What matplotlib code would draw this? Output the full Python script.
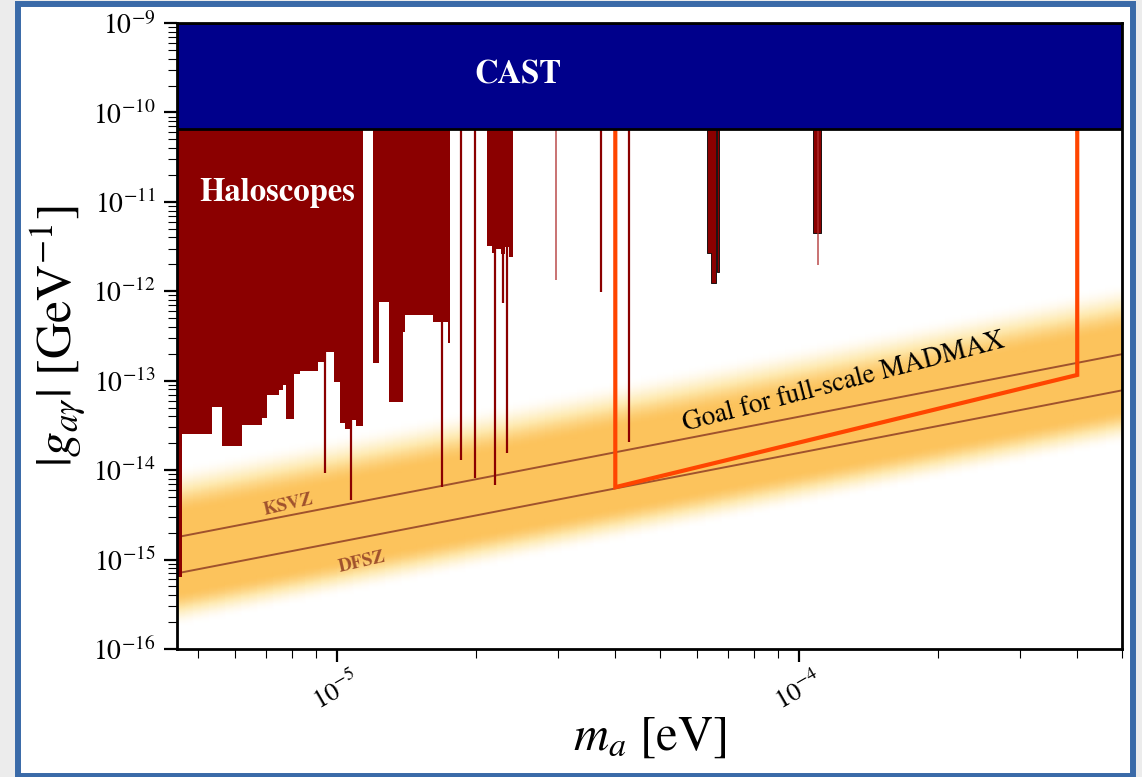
import numpy as np
import matplotlib
matplotlib.use("Agg")
import matplotlib.pyplot as plt
from matplotlib.patches import Rectangle
from matplotlib.colors import LinearSegmentedColormap
from matplotlib.ticker import LogLocator, NullFormatter

plt.rcParams['font.family'] = 'STIXGeneral'
plt.rcParams['mathtext.fontset'] = 'stix'

# ------------------------------------------------------------
# DATOS
# ------------------------------------------------------------
m_min, m_max = 4.5e-6, 5e-4
g_min, g_max = 1e-16, 1e-9
cast_g = 6.6e-11

# modelos QCD: g = c * m
ksvz_c = 3.96e-10
dfsz_c = 1.56e-10

# haloscopios: escalera principal (bordes en masa, limite inferior)
halo_edges = [4.50e-6, 4.62e-6, 5.35e-6, 5.62e-6, 6.21e-6, 6.89e-6, 7.06e-6,
              7.50e-6, 7.64e-6, 7.73e-6, 8.08e-6, 8.32e-6, 9.10e-6, 9.47e-6,
              9.85e-6, 1.015e-5, 1.04e-5, 1.07e-5, 1.10e-5, 1.138e-5, 1.196e-5,
              1.232e-5, 1.295e-5, 1.389e-5, 1.40e-5, 1.61e-5, 1.737e-5, 1.755e-5]
halo_low = [6.35e-16, 2.53e-14, 5.07e-14, 1.85e-14, 3.18e-14, 3.82e-14, 6.9e-14,
            7.85e-14, 8.93e-14, 3.72e-14, 1.19e-13, 1.28e-13, 1.61e-13, 2.09e-13,
            9.64e-14, 3.4e-14, 2.9e-14, 3.6e-14, 3.1e-14, 1e-9, 1.57e-13,
            7.57e-13, 5.77e-14, 3.5e-13, 5.42e-13, 4.52e-13, 2.63e-13]

# bloque ~2.1e-5 a 2.4e-5
blockB_edges = [2.11e-5, 2.16e-5, 2.21e-5, 2.26e-5, 2.31e-5, 2.36e-5, 2.40e-5]
blockB_low = [3.2e-12, 2.7e-12, 3.0e-12, 2.6e-12, 3.1e-12, 2.4e-12]

# grupo ~6.5e-5
blockC_edges = [6.33e-5, 6.45e-5, 6.61e-5, 6.645e-5, 6.71e-5]
blockC_low = [2.67e-12, 1.24e-12, 1e-9, 1.64e-12]

# bloque ~1.1e-4
blockD_edges = [1.072e-4, 1.115e-4]
blockD_low = [4.48e-12]

# lineas finas (masa, limite inferior)
spike_m = [9.42e-6, 1.072e-5, 1.69e-5, 1.853e-5, 1.987e-5, 2.196e-5, 2.284e-5,
           2.33e-5, 3.72e-5, 4.28e-5]
spike_g = [9.25e-15, 4.6e-15, 6.45e-15, 1.29e-14, 8.13e-15, 6.79e-15, 7.4e-13,
           1.55e-14, 9.8e-13, 2.06e-14]
faint_m = [2.97e-5, 1.10e-4]
faint_g = [1.33e-12, 1.96e-12]

# MADMAX
madmax_m = [4e-5, 4e-5, 4e-4, 4e-4]
madmax_g = [1e-9, 6.45e-15, 1.16e-13, 1e-9]

halo_color = '#8b0000'
cast_color = '#00008b'
model_color = '#a0522d'


def step_fill(ax, edges, lows, **kw):
    lows = list(lows) + [lows[-1]]
    ax.fill_between(edges, lows, g_max, step='post', **kw)


fig = plt.figure(figsize=(11.42, 7.77), dpi=100)
fig.patch.set_facecolor('#ececec')
marco = Rectangle((18 / 1142, 1 / 777), (1133 - 18) / 1142, (776 - 4) / 777,
                  transform=fig.transFigure, facecolor='white',
                  edgecolor='#3a6aa8', linewidth=4.3, zorder=-1)
fig.add_artist(marco)

ax = fig.add_axes([177 / 1142, 1 - 649 / 777, (1122 - 177) / 1142, (649 - 23) / 777])
ax.set_xscale('log')
ax.set_yscale('log')
ax.set_xlim(m_min, m_max)
ax.set_ylim(g_min, g_max)

# banda QCD
lm = np.linspace(np.log10(m_min), np.log10(m_max), 60)
lg = np.linspace(-16, -9, 700)
LM, LG = np.meshgrid(lm, lg)
u = LG - (LM + np.log10(np.sqrt(ksvz_c * dfsz_c)))


def smooth(t):
    t = np.clip(t, 0, 1)
    return t * t * (3 - 2 * t)


inten = np.where(u > 0.45, smooth((1.0 - u) / 0.55),
                 np.where(u < -0.4, smooth((u + 0.8) / 0.4), 1.0))
cmap = LinearSegmentedColormap.from_list('banda', ['white', '#feeab0', '#fcc35c'])
ax.pcolormesh(10 ** LM, 10 ** LG, inten, cmap=cmap, vmin=0, vmax=1,
              shading='gouraud', zorder=0, rasterized=True)

mm = np.array([m_min, m_max])
ax.plot(mm, ksvz_c * mm, color=model_color, lw=1.4, zorder=2)
ax.plot(mm, dfsz_c * mm, color=model_color, lw=1.4, zorder=2)

# haloscopios
step_fill(ax, halo_edges, halo_low, color=halo_color, lw=0, zorder=3)
step_fill(ax, blockB_edges, blockB_low, color=halo_color, lw=0, zorder=3)
step_fill(ax, blockC_edges, blockC_low, facecolor=halo_color, edgecolor='black',
          lw=0.6, zorder=3)
step_fill(ax, blockD_edges, blockD_low, facecolor=halo_color, edgecolor='black',
          lw=0.6, zorder=3)
ax.vlines(spike_m, spike_g, g_max, color=halo_color, lw=1.6, zorder=3)
ax.vlines(faint_m, faint_g, g_max, color='#b03030', lw=1.2, alpha=0.8, zorder=3)

# MADMAX
ax.plot(madmax_m, madmax_g, color='#ff4500', lw=3, zorder=4,
        solid_joinstyle='miter')

# CAST
ax.fill_between(mm, cast_g, g_max, facecolor=cast_color, edgecolor='black',
                lw=2, zorder=5)

ax.text(2.46e-5, 2.62e-10, 'CAST', color='white', fontsize=23.5,
        fontweight='bold', ha='center', va='center', zorder=6)
ax.text(7.42e-6, 1.25e-11, 'Haloscopes', color='white', fontsize=23.5,
        fontweight='bold', ha='center', va='center', zorder=6)
ax.text(1.25e-4, 9.6e-14, 'Goal for full-scale MADMAX', color='black',
        fontsize=19.5, rotation=14.7, rotation_mode='anchor',
        ha='center', va='center', zorder=6)
ax.text(7.84e-6, 4.06e-15, 'KSVZ', color=model_color, fontsize=13.5,
        fontweight='bold', rotation=13, rotation_mode='anchor',
        ha='center', va='center', zorder=6)
ax.text(1.132e-5, 9.35e-16, 'DFSZ', color=model_color, fontsize=13.5,
        fontweight='bold', rotation=13, rotation_mode='anchor',
        ha='center', va='center', zorder=6)

# ejes
ax.yaxis.set_major_locator(LogLocator(base=10, numticks=20))
ax.yaxis.set_minor_locator(LogLocator(base=10, subs=np.arange(2, 10), numticks=100))
ax.xaxis.set_minor_locator(LogLocator(base=10, subs=np.arange(2, 10), numticks=100))
ax.xaxis.set_minor_formatter(NullFormatter())
ax.yaxis.set_minor_formatter(NullFormatter())
ax.tick_params(which='major', direction='out', length=9.5, width=1.6,
               labelsize=20, pad=6)
ax.tick_params(which='minor', direction='out', length=6.5, width=0.8)
ax.tick_params(axis='x', which='major', labelsize=19, labelrotation=30, pad=4)
for s in ax.spines.values():
    s.set_linewidth(2)
    s.set_zorder(7)

ax.set_xlabel(r'$m_a$ [eV]', fontsize=35, labelpad=0)
ax.set_ylabel(r'$|g_{a\gamma}|$ [GeV$^{-1}$]', fontsize=36, labelpad=4)

fig.savefig('out.png', dpi=100, facecolor=fig.get_facecolor())
